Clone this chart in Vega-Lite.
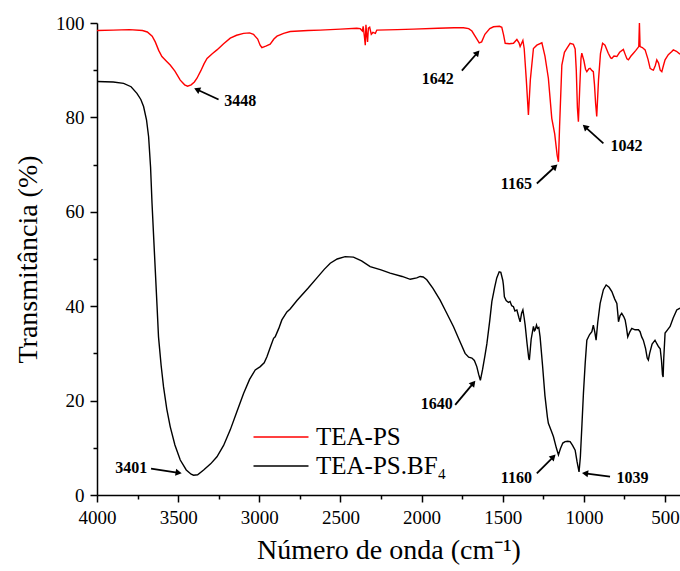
{
  "$schema": "https://vega.github.io/schema/vega-lite/v6.json",
  "width": 583,
  "height": 472,
  "autosize": {"type": "none"},
  "padding": {"left": 97, "top": 23, "right": 0, "bottom": 76},
  "background": "white",
  "config": {
    "view": {"stroke": null},
    "axis": {
      "grid": false,
      "domainColor": "black",
      "domainWidth": 1.5,
      "tickColor": "black",
      "tickWidth": 1.5,
      "labelFont": "Liberation Serif",
      "labelFontSize": 19,
      "labelColor": "black",
      "titleFont": "Liberation Serif",
      "titleFontWeight": "normal",
      "titleFontSize": 28,
      "titleColor": "black"
    }
  },
  "datasets": {
    "spectra": [
      {"sample": "TEA-PS", "wavenumber": 4000, "transmittance": 98.4},
      {"sample": "TEA-PS", "wavenumber": 3900, "transmittance": 98.5},
      {"sample": "TEA-PS", "wavenumber": 3800, "transmittance": 98.6},
      {"sample": "TEA-PS", "wavenumber": 3720, "transmittance": 98.4},
      {"sample": "TEA-PS", "wavenumber": 3690, "transmittance": 98.1},
      {"sample": "TEA-PS", "wavenumber": 3660, "transmittance": 97.2},
      {"sample": "TEA-PS", "wavenumber": 3641, "transmittance": 96.0},
      {"sample": "TEA-PS", "wavenumber": 3620, "transmittance": 94.2},
      {"sample": "TEA-PS", "wavenumber": 3600, "transmittance": 92.9},
      {"sample": "TEA-PS", "wavenumber": 3575, "transmittance": 92.0},
      {"sample": "TEA-PS", "wavenumber": 3549, "transmittance": 91.1},
      {"sample": "TEA-PS", "wavenumber": 3520, "transmittance": 89.8},
      {"sample": "TEA-PS", "wavenumber": 3487, "transmittance": 87.9},
      {"sample": "TEA-PS", "wavenumber": 3460, "transmittance": 86.9},
      {"sample": "TEA-PS", "wavenumber": 3442, "transmittance": 86.6},
      {"sample": "TEA-PS", "wavenumber": 3420, "transmittance": 86.9},
      {"sample": "TEA-PS", "wavenumber": 3400, "transmittance": 87.5},
      {"sample": "TEA-PS", "wavenumber": 3384, "transmittance": 88.3},
      {"sample": "TEA-PS", "wavenumber": 3360, "transmittance": 89.9},
      {"sample": "TEA-PS", "wavenumber": 3340, "transmittance": 91.4},
      {"sample": "TEA-PS", "wavenumber": 3322, "transmittance": 92.5},
      {"sample": "TEA-PS", "wavenumber": 3290, "transmittance": 93.5},
      {"sample": "TEA-PS", "wavenumber": 3261, "transmittance": 94.3},
      {"sample": "TEA-PS", "wavenumber": 3220, "transmittance": 95.6},
      {"sample": "TEA-PS", "wavenumber": 3179, "transmittance": 96.8},
      {"sample": "TEA-PS", "wavenumber": 3140, "transmittance": 97.4},
      {"sample": "TEA-PS", "wavenumber": 3097, "transmittance": 97.8},
      {"sample": "TEA-PS", "wavenumber": 3060, "transmittance": 97.9},
      {"sample": "TEA-PS", "wavenumber": 3036, "transmittance": 97.6},
      {"sample": "TEA-PS", "wavenumber": 3010, "transmittance": 96.6},
      {"sample": "TEA-PS", "wavenumber": 2995, "transmittance": 95.3},
      {"sample": "TEA-PS", "wavenumber": 2984, "transmittance": 94.8},
      {"sample": "TEA-PS", "wavenumber": 2960, "transmittance": 95.1},
      {"sample": "TEA-PS", "wavenumber": 2933, "transmittance": 95.5},
      {"sample": "TEA-PS", "wavenumber": 2910, "transmittance": 96.6},
      {"sample": "TEA-PS", "wavenumber": 2891, "transmittance": 97.2},
      {"sample": "TEA-PS", "wavenumber": 2850, "transmittance": 97.8},
      {"sample": "TEA-PS", "wavenumber": 2810, "transmittance": 98.2},
      {"sample": "TEA-PS", "wavenumber": 2700, "transmittance": 98.4},
      {"sample": "TEA-PS", "wavenumber": 2625, "transmittance": 98.5},
      {"sample": "TEA-PS", "wavenumber": 2500, "transmittance": 98.7},
      {"sample": "TEA-PS", "wavenumber": 2400, "transmittance": 98.9},
      {"sample": "TEA-PS", "wavenumber": 2378, "transmittance": 98.8},
      {"sample": "TEA-PS", "wavenumber": 2365, "transmittance": 98.3},
      {"sample": "TEA-PS", "wavenumber": 2360, "transmittance": 99.3},
      {"sample": "TEA-PS", "wavenumber": 2352, "transmittance": 97.0},
      {"sample": "TEA-PS", "wavenumber": 2347, "transmittance": 95.3},
      {"sample": "TEA-PS", "wavenumber": 2343, "transmittance": 99.6},
      {"sample": "TEA-PS", "wavenumber": 2338, "transmittance": 97.5},
      {"sample": "TEA-PS", "wavenumber": 2333, "transmittance": 96.0},
      {"sample": "TEA-PS", "wavenumber": 2328, "transmittance": 98.9},
      {"sample": "TEA-PS", "wavenumber": 2320, "transmittance": 99.1},
      {"sample": "TEA-PS", "wavenumber": 2310, "transmittance": 97.6},
      {"sample": "TEA-PS", "wavenumber": 2300, "transmittance": 98.0},
      {"sample": "TEA-PS", "wavenumber": 2285, "transmittance": 97.8},
      {"sample": "TEA-PS", "wavenumber": 2276, "transmittance": 98.5},
      {"sample": "TEA-PS", "wavenumber": 2150, "transmittance": 98.6},
      {"sample": "TEA-PS", "wavenumber": 2050, "transmittance": 98.7},
      {"sample": "TEA-PS", "wavenumber": 1900, "transmittance": 98.9},
      {"sample": "TEA-PS", "wavenumber": 1800, "transmittance": 99.0},
      {"sample": "TEA-PS", "wavenumber": 1742, "transmittance": 99.0},
      {"sample": "TEA-PS", "wavenumber": 1710, "transmittance": 98.8},
      {"sample": "TEA-PS", "wavenumber": 1690, "transmittance": 98.3},
      {"sample": "TEA-PS", "wavenumber": 1665, "transmittance": 96.9},
      {"sample": "TEA-PS", "wavenumber": 1645, "transmittance": 95.8},
      {"sample": "TEA-PS", "wavenumber": 1630, "transmittance": 96.0},
      {"sample": "TEA-PS", "wavenumber": 1610, "transmittance": 97.6},
      {"sample": "TEA-PS", "wavenumber": 1580, "transmittance": 98.8},
      {"sample": "TEA-PS", "wavenumber": 1557, "transmittance": 99.2},
      {"sample": "TEA-PS", "wavenumber": 1520, "transmittance": 99.3},
      {"sample": "TEA-PS", "wavenumber": 1506, "transmittance": 99.1},
      {"sample": "TEA-PS", "wavenumber": 1495, "transmittance": 97.5},
      {"sample": "TEA-PS", "wavenumber": 1485, "transmittance": 95.7},
      {"sample": "TEA-PS", "wavenumber": 1460, "transmittance": 95.6},
      {"sample": "TEA-PS", "wavenumber": 1434, "transmittance": 95.7},
      {"sample": "TEA-PS", "wavenumber": 1413, "transmittance": 96.5},
      {"sample": "TEA-PS", "wavenumber": 1400, "transmittance": 95.8},
      {"sample": "TEA-PS", "wavenumber": 1393, "transmittance": 95.0},
      {"sample": "TEA-PS", "wavenumber": 1376, "transmittance": 96.3},
      {"sample": "TEA-PS", "wavenumber": 1368, "transmittance": 94.6},
      {"sample": "TEA-PS", "wavenumber": 1355, "transmittance": 88.0},
      {"sample": "TEA-PS", "wavenumber": 1342, "transmittance": 80.5},
      {"sample": "TEA-PS", "wavenumber": 1330, "transmittance": 88.0},
      {"sample": "TEA-PS", "wavenumber": 1311, "transmittance": 94.6},
      {"sample": "TEA-PS", "wavenumber": 1290, "transmittance": 95.3},
      {"sample": "TEA-PS", "wavenumber": 1259, "transmittance": 95.8},
      {"sample": "TEA-PS", "wavenumber": 1240, "transmittance": 93.0},
      {"sample": "TEA-PS", "wavenumber": 1219, "transmittance": 88.3},
      {"sample": "TEA-PS", "wavenumber": 1198, "transmittance": 79.8},
      {"sample": "TEA-PS", "wavenumber": 1180, "transmittance": 76.5},
      {"sample": "TEA-PS", "wavenumber": 1165, "transmittance": 72.0},
      {"sample": "TEA-PS", "wavenumber": 1157, "transmittance": 70.6},
      {"sample": "TEA-PS", "wavenumber": 1150, "transmittance": 78.0},
      {"sample": "TEA-PS", "wavenumber": 1136, "transmittance": 91.1},
      {"sample": "TEA-PS", "wavenumber": 1120, "transmittance": 93.8},
      {"sample": "TEA-PS", "wavenumber": 1105, "transmittance": 94.6},
      {"sample": "TEA-PS", "wavenumber": 1085, "transmittance": 95.7},
      {"sample": "TEA-PS", "wavenumber": 1065, "transmittance": 95.5},
      {"sample": "TEA-PS", "wavenumber": 1054, "transmittance": 94.5},
      {"sample": "TEA-PS", "wavenumber": 1047, "transmittance": 90.0},
      {"sample": "TEA-PS", "wavenumber": 1040, "transmittance": 82.0},
      {"sample": "TEA-PS", "wavenumber": 1034, "transmittance": 79.1},
      {"sample": "TEA-PS", "wavenumber": 1026, "transmittance": 86.0},
      {"sample": "TEA-PS", "wavenumber": 1018, "transmittance": 92.5},
      {"sample": "TEA-PS", "wavenumber": 1013, "transmittance": 93.6},
      {"sample": "TEA-PS", "wavenumber": 1000, "transmittance": 92.0},
      {"sample": "TEA-PS", "wavenumber": 990, "transmittance": 90.2},
      {"sample": "TEA-PS", "wavenumber": 982, "transmittance": 89.7},
      {"sample": "TEA-PS", "wavenumber": 970, "transmittance": 90.3},
      {"sample": "TEA-PS", "wavenumber": 962, "transmittance": 90.4},
      {"sample": "TEA-PS", "wavenumber": 950, "transmittance": 89.9},
      {"sample": "TEA-PS", "wavenumber": 942, "transmittance": 89.7},
      {"sample": "TEA-PS", "wavenumber": 935, "transmittance": 87.0},
      {"sample": "TEA-PS", "wavenumber": 928, "transmittance": 83.0},
      {"sample": "TEA-PS", "wavenumber": 921, "transmittance": 80.2},
      {"sample": "TEA-PS", "wavenumber": 910, "transmittance": 88.0},
      {"sample": "TEA-PS", "wavenumber": 898, "transmittance": 93.5},
      {"sample": "TEA-PS", "wavenumber": 885, "transmittance": 95.7},
      {"sample": "TEA-PS", "wavenumber": 870, "transmittance": 95.3},
      {"sample": "TEA-PS", "wavenumber": 850, "transmittance": 93.6},
      {"sample": "TEA-PS", "wavenumber": 835, "transmittance": 92.6},
      {"sample": "TEA-PS", "wavenumber": 828, "transmittance": 92.5},
      {"sample": "TEA-PS", "wavenumber": 815, "transmittance": 93.0},
      {"sample": "TEA-PS", "wavenumber": 797, "transmittance": 92.9},
      {"sample": "TEA-PS", "wavenumber": 780, "transmittance": 93.8},
      {"sample": "TEA-PS", "wavenumber": 757, "transmittance": 94.4},
      {"sample": "TEA-PS", "wavenumber": 745, "transmittance": 93.3},
      {"sample": "TEA-PS", "wavenumber": 735, "transmittance": 92.4},
      {"sample": "TEA-PS", "wavenumber": 726, "transmittance": 92.2},
      {"sample": "TEA-PS", "wavenumber": 710, "transmittance": 93.0},
      {"sample": "TEA-PS", "wavenumber": 695, "transmittance": 93.6},
      {"sample": "TEA-PS", "wavenumber": 680, "transmittance": 94.2},
      {"sample": "TEA-PS", "wavenumber": 662, "transmittance": 95.0},
      {"sample": "TEA-PS", "wavenumber": 658, "transmittance": 100.0},
      {"sample": "TEA-PS", "wavenumber": 654, "transmittance": 95.0},
      {"sample": "TEA-PS", "wavenumber": 640, "transmittance": 94.8},
      {"sample": "TEA-PS", "wavenumber": 623, "transmittance": 94.3},
      {"sample": "TEA-PS", "wavenumber": 605, "transmittance": 92.3},
      {"sample": "TEA-PS", "wavenumber": 592, "transmittance": 90.4},
      {"sample": "TEA-PS", "wavenumber": 580, "transmittance": 90.1},
      {"sample": "TEA-PS", "wavenumber": 572, "transmittance": 90.0},
      {"sample": "TEA-PS", "wavenumber": 560, "transmittance": 91.0},
      {"sample": "TEA-PS", "wavenumber": 551, "transmittance": 92.2},
      {"sample": "TEA-PS", "wavenumber": 540, "transmittance": 91.5},
      {"sample": "TEA-PS", "wavenumber": 530, "transmittance": 90.0},
      {"sample": "TEA-PS", "wavenumber": 520, "transmittance": 89.7},
      {"sample": "TEA-PS", "wavenumber": 510, "transmittance": 91.0},
      {"sample": "TEA-PS", "wavenumber": 500, "transmittance": 92.2},
      {"sample": "TEA-PS", "wavenumber": 480, "transmittance": 93.3},
      {"sample": "TEA-PS", "wavenumber": 460, "transmittance": 93.9},
      {"sample": "TEA-PS", "wavenumber": 449, "transmittance": 94.3},
      {"sample": "TEA-PS", "wavenumber": 430, "transmittance": 94.0},
      {"sample": "TEA-PS", "wavenumber": 408, "transmittance": 93.4},
      {"sample": "TEA-PS.BF₄", "wavenumber": 4000, "transmittance": 87.6},
      {"sample": "TEA-PS.BF₄", "wavenumber": 3900, "transmittance": 87.5},
      {"sample": "TEA-PS.BF₄", "wavenumber": 3836, "transmittance": 87.2},
      {"sample": "TEA-PS.BF₄", "wavenumber": 3790, "transmittance": 86.5},
      {"sample": "TEA-PS.BF₄", "wavenumber": 3754, "transmittance": 85.1},
      {"sample": "TEA-PS.BF₄", "wavenumber": 3730, "transmittance": 83.8},
      {"sample": "TEA-PS.BF₄", "wavenumber": 3713, "transmittance": 82.3},
      {"sample": "TEA-PS.BF₄", "wavenumber": 3695, "transmittance": 79.5},
      {"sample": "TEA-PS.BF₄", "wavenumber": 3682, "transmittance": 75.9},
      {"sample": "TEA-PS.BF₄", "wavenumber": 3670, "transmittance": 69.5},
      {"sample": "TEA-PS.BF₄", "wavenumber": 3661, "transmittance": 61.8},
      {"sample": "TEA-PS.BF₄", "wavenumber": 3650, "transmittance": 54.0},
      {"sample": "TEA-PS.BF₄", "wavenumber": 3641, "transmittance": 47.7},
      {"sample": "TEA-PS.BF₄", "wavenumber": 3630, "transmittance": 40.0},
      {"sample": "TEA-PS.BF₄", "wavenumber": 3621, "transmittance": 33.5},
      {"sample": "TEA-PS.BF₄", "wavenumber": 3605, "transmittance": 27.5},
      {"sample": "TEA-PS.BF₄", "wavenumber": 3590, "transmittance": 22.9},
      {"sample": "TEA-PS.BF₄", "wavenumber": 3570, "transmittance": 18.2},
      {"sample": "TEA-PS.BF₄", "wavenumber": 3549, "transmittance": 14.5},
      {"sample": "TEA-PS.BF₄", "wavenumber": 3520, "transmittance": 10.6},
      {"sample": "TEA-PS.BF₄", "wavenumber": 3487, "transmittance": 7.4},
      {"sample": "TEA-PS.BF₄", "wavenumber": 3450, "transmittance": 5.3},
      {"sample": "TEA-PS.BF₄", "wavenumber": 3420, "transmittance": 4.4},
      {"sample": "TEA-PS.BF₄", "wavenumber": 3405, "transmittance": 4.2},
      {"sample": "TEA-PS.BF₄", "wavenumber": 3380, "transmittance": 4.3},
      {"sample": "TEA-PS.BF₄", "wavenumber": 3343, "transmittance": 5.3},
      {"sample": "TEA-PS.BF₄", "wavenumber": 3300, "transmittance": 6.6},
      {"sample": "TEA-PS.BF₄", "wavenumber": 3261, "transmittance": 8.1},
      {"sample": "TEA-PS.BF₄", "wavenumber": 3220, "transmittance": 10.5},
      {"sample": "TEA-PS.BF₄", "wavenumber": 3179, "transmittance": 13.8},
      {"sample": "TEA-PS.BF₄", "wavenumber": 3140, "transmittance": 17.5},
      {"sample": "TEA-PS.BF₄", "wavenumber": 3097, "transmittance": 21.5},
      {"sample": "TEA-PS.BF₄", "wavenumber": 3060, "transmittance": 24.5},
      {"sample": "TEA-PS.BF₄", "wavenumber": 3025, "transmittance": 26.5},
      {"sample": "TEA-PS.BF₄", "wavenumber": 2994, "transmittance": 27.2},
      {"sample": "TEA-PS.BF₄", "wavenumber": 2970, "transmittance": 28.0},
      {"sample": "TEA-PS.BF₄", "wavenumber": 2953, "transmittance": 29.3},
      {"sample": "TEA-PS.BF₄", "wavenumber": 2930, "transmittance": 31.5},
      {"sample": "TEA-PS.BF₄", "wavenumber": 2912, "transmittance": 33.2},
      {"sample": "TEA-PS.BF₄", "wavenumber": 2902, "transmittance": 33.5},
      {"sample": "TEA-PS.BF₄", "wavenumber": 2880, "transmittance": 35.3},
      {"sample": "TEA-PS.BF₄", "wavenumber": 2861, "transmittance": 37.1},
      {"sample": "TEA-PS.BF₄", "wavenumber": 2830, "transmittance": 38.8},
      {"sample": "TEA-PS.BF₄", "wavenumber": 2810, "transmittance": 39.4},
      {"sample": "TEA-PS.BF₄", "wavenumber": 2768, "transmittance": 41.2},
      {"sample": "TEA-PS.BF₄", "wavenumber": 2700, "transmittance": 43.8},
      {"sample": "TEA-PS.BF₄", "wavenumber": 2645, "transmittance": 46.0},
      {"sample": "TEA-PS.BF₄", "wavenumber": 2600, "transmittance": 47.8},
      {"sample": "TEA-PS.BF₄", "wavenumber": 2563, "transmittance": 49.1},
      {"sample": "TEA-PS.BF₄", "wavenumber": 2520, "transmittance": 50.0},
      {"sample": "TEA-PS.BF₄", "wavenumber": 2471, "transmittance": 50.5},
      {"sample": "TEA-PS.BF₄", "wavenumber": 2420, "transmittance": 50.4},
      {"sample": "TEA-PS.BF₄", "wavenumber": 2370, "transmittance": 49.6},
      {"sample": "TEA-PS.BF₄", "wavenumber": 2317, "transmittance": 48.4},
      {"sample": "TEA-PS.BF₄", "wavenumber": 2250, "transmittance": 47.7},
      {"sample": "TEA-PS.BF₄", "wavenumber": 2194, "transmittance": 47.0},
      {"sample": "TEA-PS.BF₄", "wavenumber": 2120, "transmittance": 46.3},
      {"sample": "TEA-PS.BF₄", "wavenumber": 2070, "transmittance": 45.7},
      {"sample": "TEA-PS.BF₄", "wavenumber": 2030, "transmittance": 46.0},
      {"sample": "TEA-PS.BF₄", "wavenumber": 2009, "transmittance": 46.3},
      {"sample": "TEA-PS.BF₄", "wavenumber": 1990, "transmittance": 46.2},
      {"sample": "TEA-PS.BF₄", "wavenumber": 1968, "transmittance": 45.6},
      {"sample": "TEA-PS.BF₄", "wavenumber": 1930, "transmittance": 43.8},
      {"sample": "TEA-PS.BF₄", "wavenumber": 1886, "transmittance": 41.3},
      {"sample": "TEA-PS.BF₄", "wavenumber": 1845, "transmittance": 38.5},
      {"sample": "TEA-PS.BF₄", "wavenumber": 1804, "transmittance": 35.7},
      {"sample": "TEA-PS.BF₄", "wavenumber": 1770, "transmittance": 33.0},
      {"sample": "TEA-PS.BF₄", "wavenumber": 1732, "transmittance": 30.0},
      {"sample": "TEA-PS.BF₄", "wavenumber": 1710, "transmittance": 29.2},
      {"sample": "TEA-PS.BF₄", "wavenumber": 1690, "transmittance": 29.0},
      {"sample": "TEA-PS.BF₄", "wavenumber": 1675, "transmittance": 28.5},
      {"sample": "TEA-PS.BF₄", "wavenumber": 1660, "transmittance": 27.2},
      {"sample": "TEA-PS.BF₄", "wavenumber": 1648, "transmittance": 25.5},
      {"sample": "TEA-PS.BF₄", "wavenumber": 1638, "transmittance": 24.3},
      {"sample": "TEA-PS.BF₄", "wavenumber": 1625, "transmittance": 26.5},
      {"sample": "TEA-PS.BF₄", "wavenumber": 1610, "transmittance": 29.5},
      {"sample": "TEA-PS.BF₄", "wavenumber": 1598, "transmittance": 32.0},
      {"sample": "TEA-PS.BF₄", "wavenumber": 1580, "transmittance": 37.0},
      {"sample": "TEA-PS.BF₄", "wavenumber": 1567, "transmittance": 41.0},
      {"sample": "TEA-PS.BF₄", "wavenumber": 1550, "transmittance": 44.0},
      {"sample": "TEA-PS.BF₄", "wavenumber": 1537, "transmittance": 46.0},
      {"sample": "TEA-PS.BF₄", "wavenumber": 1522, "transmittance": 47.3},
      {"sample": "TEA-PS.BF₄", "wavenumber": 1512, "transmittance": 47.2},
      {"sample": "TEA-PS.BF₄", "wavenumber": 1500, "transmittance": 45.5},
      {"sample": "TEA-PS.BF₄", "wavenumber": 1496, "transmittance": 44.5},
      {"sample": "TEA-PS.BF₄", "wavenumber": 1490, "transmittance": 42.0},
      {"sample": "TEA-PS.BF₄", "wavenumber": 1479, "transmittance": 41.2},
      {"sample": "TEA-PS.BF₄", "wavenumber": 1465, "transmittance": 40.8},
      {"sample": "TEA-PS.BF₄", "wavenumber": 1455, "transmittance": 41.0},
      {"sample": "TEA-PS.BF₄", "wavenumber": 1445, "transmittance": 40.1},
      {"sample": "TEA-PS.BF₄", "wavenumber": 1434, "transmittance": 39.9},
      {"sample": "TEA-PS.BF₄", "wavenumber": 1425, "transmittance": 39.0},
      {"sample": "TEA-PS.BF₄", "wavenumber": 1413, "transmittance": 39.2},
      {"sample": "TEA-PS.BF₄", "wavenumber": 1400, "transmittance": 37.5},
      {"sample": "TEA-PS.BF₄", "wavenumber": 1393, "transmittance": 36.7},
      {"sample": "TEA-PS.BF₄", "wavenumber": 1384, "transmittance": 38.5},
      {"sample": "TEA-PS.BF₄", "wavenumber": 1376, "transmittance": 39.2},
      {"sample": "TEA-PS.BF₄", "wavenumber": 1368, "transmittance": 37.5},
      {"sample": "TEA-PS.BF₄", "wavenumber": 1362, "transmittance": 36.0},
      {"sample": "TEA-PS.BF₄", "wavenumber": 1350, "transmittance": 32.0},
      {"sample": "TEA-PS.BF₄", "wavenumber": 1340, "transmittance": 29.0},
      {"sample": "TEA-PS.BF₄", "wavenumber": 1336, "transmittance": 28.6},
      {"sample": "TEA-PS.BF₄", "wavenumber": 1325, "transmittance": 33.0},
      {"sample": "TEA-PS.BF₄", "wavenumber": 1311, "transmittance": 35.7},
      {"sample": "TEA-PS.BF₄", "wavenumber": 1305, "transmittance": 34.8},
      {"sample": "TEA-PS.BF₄", "wavenumber": 1300, "transmittance": 35.0},
      {"sample": "TEA-PS.BF₄", "wavenumber": 1292, "transmittance": 36.0},
      {"sample": "TEA-PS.BF₄", "wavenumber": 1286, "transmittance": 35.3},
      {"sample": "TEA-PS.BF₄", "wavenumber": 1278, "transmittance": 35.5},
      {"sample": "TEA-PS.BF₄", "wavenumber": 1270, "transmittance": 33.5},
      {"sample": "TEA-PS.BF₄", "wavenumber": 1255, "transmittance": 27.5},
      {"sample": "TEA-PS.BF₄", "wavenumber": 1240, "transmittance": 21.0},
      {"sample": "TEA-PS.BF₄", "wavenumber": 1225, "transmittance": 16.5},
      {"sample": "TEA-PS.BF₄", "wavenumber": 1219, "transmittance": 15.2},
      {"sample": "TEA-PS.BF₄", "wavenumber": 1200, "transmittance": 13.5},
      {"sample": "TEA-PS.BF₄", "wavenumber": 1188, "transmittance": 12.4},
      {"sample": "TEA-PS.BF₄", "wavenumber": 1170, "transmittance": 10.0},
      {"sample": "TEA-PS.BF₄", "wavenumber": 1157, "transmittance": 8.5},
      {"sample": "TEA-PS.BF₄", "wavenumber": 1145, "transmittance": 9.8},
      {"sample": "TEA-PS.BF₄", "wavenumber": 1130, "transmittance": 11.0},
      {"sample": "TEA-PS.BF₄", "wavenumber": 1116, "transmittance": 11.3},
      {"sample": "TEA-PS.BF₄", "wavenumber": 1100, "transmittance": 11.4},
      {"sample": "TEA-PS.BF₄", "wavenumber": 1085, "transmittance": 11.3},
      {"sample": "TEA-PS.BF₄", "wavenumber": 1070, "transmittance": 10.5},
      {"sample": "TEA-PS.BF₄", "wavenumber": 1054, "transmittance": 9.5},
      {"sample": "TEA-PS.BF₄", "wavenumber": 1042, "transmittance": 7.0},
      {"sample": "TEA-PS.BF₄", "wavenumber": 1030, "transmittance": 4.9},
      {"sample": "TEA-PS.BF₄", "wavenumber": 1022, "transmittance": 8.0},
      {"sample": "TEA-PS.BF₄", "wavenumber": 1012, "transmittance": 15.0},
      {"sample": "TEA-PS.BF₄", "wavenumber": 1003, "transmittance": 21.5},
      {"sample": "TEA-PS.BF₄", "wavenumber": 992, "transmittance": 28.0},
      {"sample": "TEA-PS.BF₄", "wavenumber": 982, "transmittance": 32.8},
      {"sample": "TEA-PS.BF₄", "wavenumber": 965, "transmittance": 34.0},
      {"sample": "TEA-PS.BF₄", "wavenumber": 951, "transmittance": 34.6},
      {"sample": "TEA-PS.BF₄", "wavenumber": 942, "transmittance": 36.0},
      {"sample": "TEA-PS.BF₄", "wavenumber": 933, "transmittance": 34.5},
      {"sample": "TEA-PS.BF₄", "wavenumber": 925, "transmittance": 32.8},
      {"sample": "TEA-PS.BF₄", "wavenumber": 915, "transmittance": 36.5},
      {"sample": "TEA-PS.BF₄", "wavenumber": 900, "transmittance": 40.6},
      {"sample": "TEA-PS.BF₄", "wavenumber": 880, "transmittance": 43.5},
      {"sample": "TEA-PS.BF₄", "wavenumber": 863, "transmittance": 44.5},
      {"sample": "TEA-PS.BF₄", "wavenumber": 845, "transmittance": 44.0},
      {"sample": "TEA-PS.BF₄", "wavenumber": 828, "transmittance": 43.1},
      {"sample": "TEA-PS.BF₄", "wavenumber": 810, "transmittance": 41.5},
      {"sample": "TEA-PS.BF₄", "wavenumber": 797, "transmittance": 40.6},
      {"sample": "TEA-PS.BF₄", "wavenumber": 790, "transmittance": 38.0},
      {"sample": "TEA-PS.BF₄", "wavenumber": 787, "transmittance": 36.7},
      {"sample": "TEA-PS.BF₄", "wavenumber": 777, "transmittance": 38.0},
      {"sample": "TEA-PS.BF₄", "wavenumber": 767, "transmittance": 38.5},
      {"sample": "TEA-PS.BF₄", "wavenumber": 755, "transmittance": 37.8},
      {"sample": "TEA-PS.BF₄", "wavenumber": 746, "transmittance": 37.1},
      {"sample": "TEA-PS.BF₄", "wavenumber": 738, "transmittance": 35.5},
      {"sample": "TEA-PS.BF₄", "wavenumber": 730, "transmittance": 33.5},
      {"sample": "TEA-PS.BF₄", "wavenumber": 718, "transmittance": 34.5},
      {"sample": "TEA-PS.BF₄", "wavenumber": 705, "transmittance": 35.3},
      {"sample": "TEA-PS.BF₄", "wavenumber": 685, "transmittance": 35.0},
      {"sample": "TEA-PS.BF₄", "wavenumber": 664, "transmittance": 35.0},
      {"sample": "TEA-PS.BF₄", "wavenumber": 654, "transmittance": 34.6},
      {"sample": "TEA-PS.BF₄", "wavenumber": 644, "transmittance": 33.5},
      {"sample": "TEA-PS.BF₄", "wavenumber": 634, "transmittance": 32.8},
      {"sample": "TEA-PS.BF₄", "wavenumber": 620, "transmittance": 31.0},
      {"sample": "TEA-PS.BF₄", "wavenumber": 610, "transmittance": 29.0},
      {"sample": "TEA-PS.BF₄", "wavenumber": 603, "transmittance": 28.6},
      {"sample": "TEA-PS.BF₄", "wavenumber": 595, "transmittance": 30.0},
      {"sample": "TEA-PS.BF₄", "wavenumber": 580, "transmittance": 32.0},
      {"sample": "TEA-PS.BF₄", "wavenumber": 562, "transmittance": 32.8},
      {"sample": "TEA-PS.BF₄", "wavenumber": 550, "transmittance": 32.0},
      {"sample": "TEA-PS.BF₄", "wavenumber": 540, "transmittance": 31.4},
      {"sample": "TEA-PS.BF₄", "wavenumber": 530, "transmittance": 31.0},
      {"sample": "TEA-PS.BF₄", "wavenumber": 522, "transmittance": 28.5},
      {"sample": "TEA-PS.BF₄", "wavenumber": 516, "transmittance": 25.5},
      {"sample": "TEA-PS.BF₄", "wavenumber": 512, "transmittance": 25.0},
      {"sample": "TEA-PS.BF₄", "wavenumber": 508, "transmittance": 29.0},
      {"sample": "TEA-PS.BF₄", "wavenumber": 500, "transmittance": 34.3},
      {"sample": "TEA-PS.BF₄", "wavenumber": 485, "transmittance": 35.0},
      {"sample": "TEA-PS.BF₄", "wavenumber": 469, "transmittance": 35.7},
      {"sample": "TEA-PS.BF₄", "wavenumber": 450, "transmittance": 37.5},
      {"sample": "TEA-PS.BF₄", "wavenumber": 428, "transmittance": 39.2},
      {"sample": "TEA-PS.BF₄", "wavenumber": 408, "transmittance": 39.6}
    ],
    "peaks": [
      {"label": "3448", "tx": 3117, "ty": 83.5, "x1": 3251, "y1": 83.8, "x2": 3384, "y2": 85.9},
      {"label": "1642", "tx": 1901, "ty": 88.1, "x1": 1752, "y1": 89.9, "x2": 1656, "y2": 93.7},
      {"label": "1165", "tx": 1416, "ty": 65.9, "x1": 1290, "y1": 66.0, "x2": 1177, "y2": 69.6},
      {"label": "1042", "tx": 738, "ty": 73.9, "x1": 880, "y1": 74.5, "x2": 993, "y2": 78.0},
      {"label": "3401", "tx": 3789, "ty": 5.7, "x1": 3667, "y1": 5.6, "x2": 3497, "y2": 4.7},
      {"label": "1640", "tx": 1906, "ty": 19.3, "x1": 1793, "y1": 19.1, "x2": 1681, "y2": 23.7},
      {"label": "1160", "tx": 1416, "ty": 3.7, "x1": 1290, "y1": 4.6, "x2": 1188, "y2": 8.1},
      {"label": "1039", "tx": 700, "ty": 3.7, "x1": 839, "y1": 3.9, "x2": 993, "y2": 4.6}
    ]
  },
  "layer": [
    {
      "data": {"name": "spectra"},
      "mark": {"type": "line", "strokeWidth": 1.4, "clip": true},
      "encoding": {
        "x": {
          "field": "wavenumber", "type": "quantitative",
          "scale": {"domain": [408, 4000], "reverse": true, "nice": false, "zero": false},
          "axis": {
            "title": "Número de onda (cm⁻¹)",
            "values": [4000, 3750, 3500, 3250, 3000, 2750, 2500, 2250, 2000, 1750, 1500, 1250, 1000, 750, 500],
            "format": "d",
            "labelExpr": "datum.value % 500 === 0 ? datum.label : ''",
            "tickSize": {"condition": {"test": "datum.value % 500 !== 0", "value": 4}, "value": 7},
            "labelPadding": 6,
            "titlePadding": 9,
            "labelFlush": false,
            "labelOverlap": false
          }
        },
        "y": {
          "field": "transmittance", "type": "quantitative",
          "scale": {"domain": [0, 100], "nice": false, "zero": true},
          "axis": {
            "title": "Transmitância (%)",
            "values": [0, 10, 20, 30, 40, 50, 60, 70, 80, 90, 100],
            "labelExpr": "datum.value % 20 === 0 ? datum.label : ''",
            "tickSize": {"condition": {"test": "datum.value % 20 !== 0", "value": 4}, "value": 7},
            "labelPadding": 6,
            "titlePadding": 13,
            "labelOverlap": false
          }
        },
        "color": {
          "field": "sample", "type": "nominal",
          "scale": {"domain": ["TEA-PS", "TEA-PS.BF₄"], "range": ["#ff0000", "#000000"]},
          "legend": {
            "title": null,
            "orient": "none",
            "legendX": 169,
            "legendY": 399,
            "symbolType": "M-2,0H2",
            "symbolSize": 756,
            "symbolStrokeWidth": 1.6,
            "symbolFillColor": "transparent",
            "labelFont": "Liberation Serif",
            "labelFontSize": 25,
            "labelColor": "black",
            "labelOffset": 20,
            "rowPadding": 1,
            "labelLimit": 300
          }
        }
      }
    },
    {
      "data": {"name": "peaks"},
      "mark": {"type": "rule", "strokeWidth": 1.8, "color": "black"},
      "encoding": {
        "x": {"field": "x1", "type": "quantitative", "scale": {"domain": [408, 4000], "reverse": true, "nice": false, "zero": false}},
        "y": {"field": "y1", "type": "quantitative", "scale": {"domain": [0, 100], "nice": false, "zero": true}},
        "x2": {"field": "x2"},
        "y2": {"field": "y2"}
      }
    },
    {
      "data": {"name": "peaks"},
      "transform": [
        {"calculate": "atan2(-(datum.x2 - datum.x1) * 0.1623, (datum.y2 - datum.y1) * 4.72) * 180 / PI", "as": "angle"}
      ],
      "mark": {"type": "point", "shape": "triangle-up", "filled": true, "size": 50, "color": "black", "opacity": 1},
      "encoding": {
        "x": {"field": "x2", "type": "quantitative", "scale": {"domain": [408, 4000], "reverse": true, "nice": false, "zero": false}},
        "y": {"field": "y2", "type": "quantitative", "scale": {"domain": [0, 100], "nice": false, "zero": true}},
        "angle": {"field": "angle", "type": "quantitative", "scale": null}
      }
    },
    {
      "data": {"name": "peaks"},
      "mark": {"type": "text", "font": "Liberation Serif", "fontWeight": "bold", "fontSize": 16, "color": "black", "align": "center", "baseline": "middle"},
      "encoding": {
        "x": {"field": "tx", "type": "quantitative", "scale": {"domain": [408, 4000], "reverse": true, "nice": false, "zero": false}},
        "y": {"field": "ty", "type": "quantitative", "scale": {"domain": [0, 100], "nice": false, "zero": true}},
        "text": {"field": "label"}
      }
    }
  ]
}
